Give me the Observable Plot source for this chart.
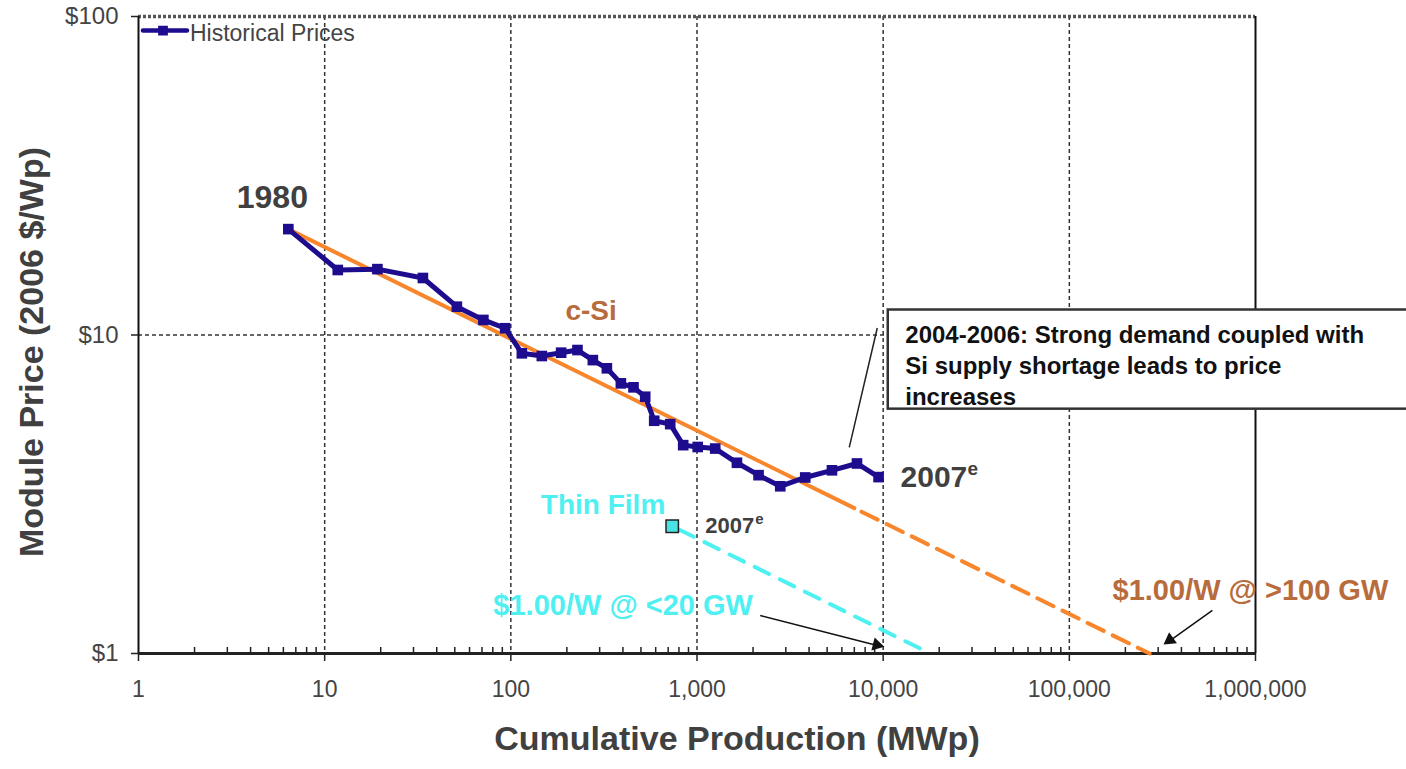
<!DOCTYPE html>
<html>
<head>
<meta charset="utf-8">
<script src="https://cdn.jsdelivr.net/npm/d3@7"></script>
<script src="https://cdn.jsdelivr.net/npm/@observablehq/plot@0.6"></script>
<style>
  html, body { margin: 0; padding: 0; background: #fff; }
  #chart { width: 1406px; height: 769px; overflow: hidden; }
</style>
</head>
<body>
<div id="chart"></div>
<script>
// ---- data ----
const histX = [6.38, 11.76, 19.2, 33.7, 51.3, 71.2, 93.2, 114.6, 146.7, 186.3, 228, 275.8, 328, 390, 456, 527, 589, 718, 843, 1009, 1253, 1639, 2141, 2800, 3814, 5308, 7232, 9447];
const histY = [21.5, 16.0, 16.1, 15.1, 12.27, 11.15, 10.5, 8.76, 8.59, 8.80, 8.97, 8.34, 7.86, 7.05, 6.85, 6.40, 5.38, 5.25, 4.51, 4.45, 4.40, 3.97, 3.63, 3.35, 3.57, 3.76, 3.95, 3.58];
const csiSolidX = [6.38, 7000];
const csiSolidY = [21.5, 2.86];
const csiDashX = [7000, 270000];
const csiDashY = [2.86, 1.0];
const tfX = [736, 17900];
const tfY = [2.51, 1.0];
const tfPoint = {x: 736, y: 2.51};
const xTicks = [1, 10, 100, 1000, 10000, 100000, 1000000];
const yTicks = [1, 10, 100];
const xGrid = [10, 100, 1000, 10000, 100000];
const yGrid = [10];
const xTitle = "Cumulative Production (MWp)";
const yTitle = "Module Price (2006 $/Wp)";
const legendLabel = "Historical Prices";
const boxText = "2004-2006: Strong demand coupled with\nSi supply shortage leads to price\nincreases";

const hist = histX.map((x, i) => ({x, y: histY[i]}));
const csiSolid = csiSolidX.map((x, i) => ({x, y: csiSolidY[i]}));
const csiDash = csiDashX.map((x, i) => ({x, y: csiDashY[i]}));
const tf = tfX.map((x, i) => ({x, y: tfY[i]}));
const minorTicks = [];
for (let d = 1; d < 1e6; d *= 10) for (let k = 2; k <= 9; k++) minorTicks.push(d * k);

const arrows = [
  {x1: 2185, y1: 1.316, x2: 9297, y2: 1.06, rot: 104.4, bx: -4.8, by: -1.2},
  {x1: 586700, y1: 1.365, x2: 348900, y2: 1.099, rot: 234.5, bx: 4.1, by: -2.9}
];

const navy = "#1e0c8e";
const orange = "#f7862c";
const brown = "#b86c3c";
const cyan = "#4ff0f2";
const gray = "#404040";
const font = "'Liberation Sans', Arial, Helvetica, sans-serif";

const chart = Plot.plot({
  width: 1406,
  height: 769,
  marginLeft: 138,
  marginRight: 151,
  marginTop: 16,
  marginBottom: 116,
  style: {fontFamily: font, background: "white", overflow: "visible"},
  x: {type: "log", domain: [1, 1e6]},
  y: {type: "log", domain: [1, 100]},
  marks: [
    // grid
    Plot.ruleX(xGrid, {stroke: "#333", strokeWidth: 1.5, strokeDasharray: "4,3"}),
    Plot.ruleY(yGrid, {stroke: "#333", strokeWidth: 1.5, strokeDasharray: "4,3"}),
    Plot.ruleY([100], {stroke: "#555", strokeWidth: 3.5, strokeDasharray: "3,2"}),
    Plot.ruleX([1], {stroke: "#111", strokeWidth: 2}),
    Plot.ruleX([1e6], {stroke: "#111", strokeWidth: 2}),
    // axes
    Plot.axisX(minorTicks, {tickSize: -6, tickFormat: () => "", stroke: "#222", strokeWidth: 1.5, label: null}),
    Plot.axisX(xTicks, {tickSize: 8, tickPadding: 19, tickFormat: d3.format(","), fontSize: 23, fill: "#444", stroke: "#222", strokeWidth: 1.5, label: null}),
    Plot.ruleY([1], {stroke: "#222", strokeWidth: 3}),
    Plot.axisY(yTicks, {tickSize: 7, tickPadding: 13, tickFormat: d => "$" + d, fontSize: 24, fill: "#444", stroke: "#222", strokeWidth: 1.5, label: null}),
    Plot.text([xTitle], {frameAnchor: "bottom", dx: 40, dy: 96, fontSize: 34, fontWeight: "bold", fill: gray}),
    Plot.text([yTitle], {frameAnchor: "left", textAnchor: "middle", dx: -106, dy: 17, rotate: -90, fontSize: 34, fontWeight: "bold", fill: gray}),
    // fit lines
    Plot.line(csiSolid, {x: "x", y: "y", stroke: orange, strokeWidth: 4}),
    Plot.line(csiDash, {x: "x", y: "y", stroke: orange, strokeWidth: 4, strokeDasharray: "18,10", strokeDashoffset: -8}),
    Plot.line(tf, {x: "x", y: "y", stroke: cyan, strokeWidth: 4, strokeDasharray: "16,12", strokeDashoffset: -8}),
    // historical
    Plot.line(hist, {x: "x", y: "y", stroke: navy, strokeWidth: 5}),
    Plot.dot(hist, {x: "x", y: "y", symbol: "square", r: 6, fill: navy}),
    Plot.dot([tfPoint], {x: "x", y: "y", symbol: "square", r: 7, fill: "#4ae3e3", stroke: "#222", strokeWidth: 1.5}),
    // legend
    Plot.line([{x: 1.057, y: 90.3}, {x: 1.822, y: 90.3}], {x: "x", y: "y", stroke: navy, strokeWidth: 4.5}),
    Plot.dot([{x: 1.354, y: 90.3}], {x: "x", y: "y", symbol: "square", r: 5.5, fill: navy}),
    Plot.text([legendLabel], {x: 1.89, y: 90.3, dy: 3, textAnchor: "start", fontSize: 23, fill: "#444"}),
    // labels
    Plot.text(["1980"], {x: histX[0], y: histY[0], dx: -16, dy: -31, fontSize: 32, fontWeight: "bold", fill: gray}),
    Plot.text(["c-Si"], {x: 270, y: 11.9, fontSize: 28, fontWeight: "bold", fill: brown}),
    Plot.text(["Thin Film"], {x: 313, y: 2.92, fontSize: 28, fontWeight: "bold", fill: cyan}),
    Plot.text(["2007"], {x: tfPoint.x, y: tfPoint.y, dx: 33, textAnchor: "start", fontSize: 22, fontWeight: "bold", fill: gray}),
    Plot.text(["e"], {x: tfPoint.x, y: tfPoint.y, dx: 83, dy: -7, textAnchor: "start", fontSize: 15, fontWeight: "bold", fill: gray}),
    Plot.text(["2007"], {x: histX[27], y: histY[27], dx: 22, textAnchor: "start", fontSize: 30, fontWeight: "bold", fill: gray}),
    Plot.text(["e"], {x: histX[27], y: histY[27], dx: 89, dy: -8, textAnchor: "start", fontSize: 19, fontWeight: "bold", fill: gray}),
    Plot.text(["$1.00/W @ <20 GW"], {x: 401, y: 1.416, fontSize: 29, fontWeight: "bold", fill: cyan}),
    Plot.text(["$1.00/W @ >100 GW"], {x: 938900, y: 1.578, fontSize: 29, fontWeight: "bold", fill: brown}),
    // annotation box
    Plot.link([{x1: 9297, y1: 10.52, x2: 6575, y2: 4.44}], {x1: "x1", y1: "y1", x2: "x2", y2: "y2", stroke: "#222", strokeWidth: 1.5}),
    Plot.rect([{x1: 10650, x2: 1e7, y1: 5.85, y2: 11.98}], {x1: "x1", x2: "x2", y1: "y1", y2: "y2", fill: "white", stroke: "#333", strokeWidth: 2.5}),
    Plot.text([boxText], {x: 13146, y: 7.99, dy: -2, textAnchor: "start", lineHeight: 1.29, fontSize: 24, fontWeight: "bold", fill: "#111"}),
    // arrows
    Plot.link(arrows, {x1: "x1", y1: "y1", x2: "x2", y2: "y2", stroke: "#111", strokeWidth: 1.5}),
    Plot.dot(arrows, {x: "x2", y: "y2", dx: d => d.bx, dy: d => d.by, symbol: "triangle", r: 5, rotate: "rot", fill: "#111"})
  ]
});
document.getElementById("chart").appendChild(chart);
</script>
</body>
</html>
